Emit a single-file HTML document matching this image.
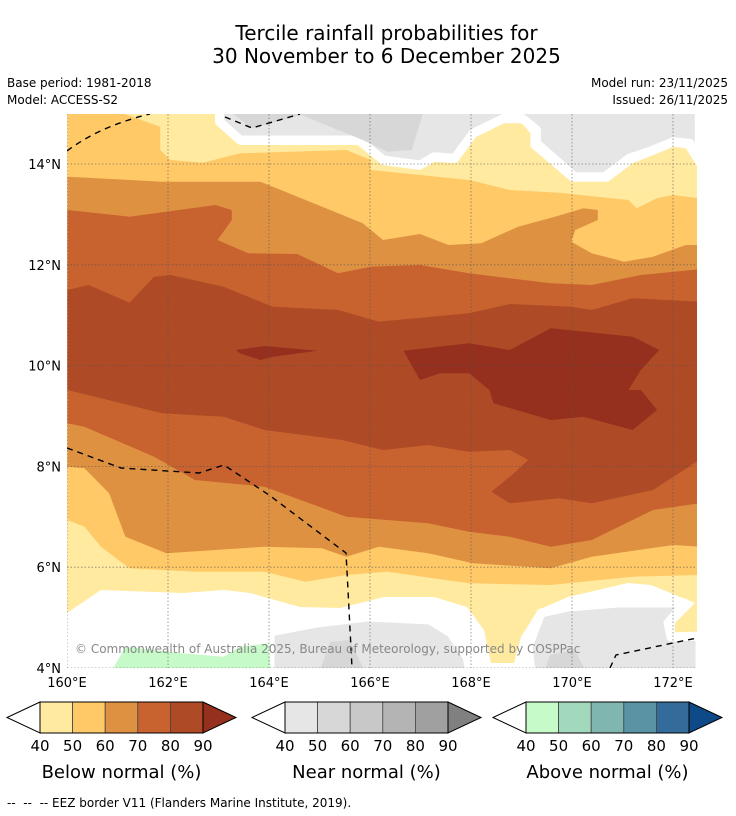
<!DOCTYPE html>
<html><head><meta charset="utf-8">
<style>
body{margin:0;background:#fff;font-family:"DejaVu Sans","Liberation Sans",sans-serif;}
#wrap{position:relative;width:736px;height:816px;overflow:hidden;background:#fff;}
.t{position:absolute;color:#000;white-space:nowrap;}
</style></head>
<body>
<div id="wrap">
<div class="t" style="left:0;width:773px;text-align:center;top:22px;font-size:20px;line-height:23px;">Tercile rainfall probabilities for<br>30 November to 6 December 2025</div>
<div class="t" style="left:7px;top:76px;font-size:12px;">Base period: 1981-2018</div>
<div class="t" style="left:7px;top:93px;font-size:12px;">Model: ACCESS-S2</div>
<div class="t" style="right:8px;top:76px;font-size:12px;">Model run: 23/11/2025</div>
<div class="t" style="right:8px;top:93px;font-size:12px;">Issued: 26/11/2025</div>
<svg id="map" width="736" height="816" style="position:absolute;left:0;top:0"></svg>
<div class="t" style="left:7px;top:796px;font-size:12px;">-- &nbsp;-- &nbsp;-- EEZ border V11 (Flanders Marine Institute, 2019).</div>
</div>
<script>
const NS="http://www.w3.org/2000/svg";
const svg=document.getElementById('map');
const lonTicks=[160,162,164,166,168,170,172];
const latTicks=[4,6,8,10,12,14];
const belowColors=["#ffeaa0","#fec966","#df9142","#c8622f","#ae4a25","#952f1e"];
const nearColors=["#e6e6e6","#d7d7d7","#c8c8c8","#b4b4b4","#a0a0a0","#808080"];
const aboveColors=["#c6fac8","#a2d8bc","#7fb6b0","#5a93a3","#336b9a","#0d4a87"];
const barLabels=[40,50,60,70,80,90];
// contour geometry (z1/z2 = zoom-frame coords, s = screen coords)
const band40=[["z1",[18,0,390,0,390,50,440,105,730,105,790,165,880,180,915,155,965,160,1010,85,1085,40,1130,40,1150,70,1150,110,1250,215,1340,215,1400,160,1440,140,1500,110,1530,115,1563,180]],["s",[697,633,675,635,675,623,695,603,651,585,628,583,568,597,538,610,521,637,514,663,491,663,484,630,467,607,434,597,384,597,340,608,300,607,250,593,224,590,183,593,101,590,67,613]]];
const band50=[["z1",[18,0,130,0,245,50,245,120,270,150,350,158,440,130,700,120,760,150,760,180,1000,210,1100,240,1220,248,1390,270,1410,295,1460,265,1500,255,1563,265]],["z2",[1563,555,1400,560,1200,585,1000,580,800,545,700,555,600,575,500,545,330,545,170,535,100,470,60,410,18,390]]];
const band60=[["z1",[18,200,250,215,490,215,620,280,740,340,790,390,880,372,950,405,1030,400,1120,350,1210,320,1280,295,1315,300,1315,330,1260,360,1250,395,1300,430,1380,455,1450,440,1530,405,1563,405]],["z2",[1563,470,1500,465,1300,500,1200,535,1010,520,900,490,780,470,700,500,640,475,500,470,260,490,160,440,120,310,60,235,18,230]]];
const band70=[["z1",[18,300,170,320,380,285,420,300,420,330,385,390,460,430,580,432,680,490,760,470,880,465,1000,490,1200,520,1300,525,1420,495,1563,478]],["z2",[1563,340,1450,360,1300,450,1200,470,1100,440,1000,425,900,400,700,380,500,290,330,270,230,200,60,110,18,100]]];
const band80=[["z1",[18,540,70,525,170,578,230,500,270,495,400,530,520,590,680,600,780,635,1000,610,1100,582,1250,590,1300,600,1400,565,1563,575]],["z2",[1563,210,1450,300,1300,340,1220,325,1100,340,1055,305,1100,260,1145,210,1100,180,1000,185,900,165,790,180,690,150,500,120,400,80,250,70,18,0]]];
const band90a=[["z1",[430,720,500,708,630,722,520,740,490,750,440,730]]];
const band90b=[["z1",[840,722,1000,700,1100,720,1200,655,1400,680,1465,720,1420,780,1390,840]],["z2",[1420,0,1460,60,1400,120,1280,80,1200,90,1060,40,1050,0]],["z1",[1050,840,1000,790,930,790,880,810]]];
const grayTop=[["z1",[390,-30,390,35,440,90,730,90,790,150,880,165,915,140,965,145,1010,70,1085,25,1130,25,1165,60,1165,100,1258,200,1332,200,1392,145,1440,125,1500,95,1540,100,1563,150,1563,-30]]];
const grayTopDark=[["z1",[410,0,470,55,590,15,740,90,800,125,860,120,890,0]]];
const grayBot=[["s",[270,680,270,632,317,623,367,617,430,620,451,633,467,657,472,680]],["s",[532,680,528,647,541,613,568,607,618,603,685,603,668,623,671,637,700,636,700,680]]];
const grayBotDark=[["s",[320,670,330,642,350,640,364,670]],["s",[545,670,550,655,575,650,585,670]]];
const greenBot=[["z2",[130,835,160,770,300,790,400,800,440,770,510,760,515,835]]];

function lonX(l){return 67+(l-160)*50.5;}
function latY(l){return 668-(l-4)*50.4;}
function pts(segs){let o=[];segs.forEach(([z,a])=>{for(let i=0;i<a.length;i+=2){let x,y;if(z==="s"){x=a[i];y=a[i+1];}else{const y0=z==="z1"?110:390;x=60+a[i]/2.445;y=y0+a[i+1]/3;}o.push(x.toFixed(1)+","+y.toFixed(1));}});return o.join(" ");}
function el(t,attrs,parent){const e=document.createElementNS(NS,t);for(const k in attrs)e.setAttribute(k,attrs[k]);(parent||svg).appendChild(e);return e;}

const clip=el('clipPath',{id:'mc'});el('rect',{x:67,y:114,width:630,height:554},clip);
const g=el('g',{'clip-path':'url(#mc)'});


el('rect',{x:67,y:114,width:630,height:554,fill:'#fff'},g);
function poly(segs,fill,name,stroke){const p=el('polygon',{points:pts(segs),fill:fill},g);if(stroke){p.setAttribute('stroke','#fff');p.setAttribute('stroke-width',stroke);p.setAttribute('stroke-linejoin','round');}

return p;}
poly(band40,belowColors[0],'below-40-50-band');
poly(grayTop,nearColors[0],'near-normal-top','9');
poly(grayTopDark,nearColors[1],'near-normal-top-dark');
poly(grayBot,nearColors[0],'near-normal-bottom','9');
poly(grayBotDark,nearColors[1],'near-normal-bottom-dark');
poly(greenBot,aboveColors[0],'above-normal-bottom');
poly(band50,belowColors[1],'below-50-60-band');
poly(band60,belowColors[2],'below-60-70-band');
poly(band70,belowColors[3],'below-70-80-band');
poly(band80,belowColors[4],'below-80-90-band');
poly(band90a,belowColors[5],'below-90-west');
poly(band90b,belowColors[5],'below-90-east');
lonTicks.forEach(l=>{const x=lonX(l);const ln=el('line',{x1:x,x2:x,y1:114,y2:668,stroke:'#555','stroke-width':0.8,'stroke-dasharray':'1.5,2',opacity:0.7},g);

});
latTicks.forEach(l=>{const y=latY(l);const ln=el('line',{x1:67,x2:697,y1:y,y2:y,stroke:'#555','stroke-width':0.8,'stroke-dasharray':'1.5,2',opacity:0.7},g);

});
['M67,151 Q100,126 150,114','M225,117 L252,128 L300,114','M67,448 L121,468 L199,473 L224,465 L269,495 L346,553 L348,590 L352,668','M610,668 L616,655 L673,643 L697,638'].forEach(d=>{const p=el('path',{d:d,fill:'none',stroke:'#000','stroke-width':1.4,'stroke-dasharray':'6,5'},g);

});
const cr=el('text',{x:75,y:653,'font-size':12,fill:'#888','font-family':'DejaVu Sans, Liberation Sans, sans-serif'},g);cr.textContent='© Commonwealth of Australia 2025, Bureau of Meteorology, supported by COSPPac';


const ff='DejaVu Sans, Liberation Sans, sans-serif';
latTicks.forEach(l=>{const t=el('text',{x:61,y:latY(l)+5,'font-size':13,'text-anchor':'end','font-family':ff});t.textContent=l+'°N';

});
lonTicks.forEach(l=>{const t=el('text',{x:lonX(l),y:687,'font-size':13,'text-anchor':'middle','font-family':ff});t.textContent=l+'°E';

});
function bar(x0,colors,title,name){const gg=el('g',{});


const y0=702,h=31,w=32.6,bx=x0+33;
el('polygon',{points:`${bx},${y0} ${x0},${y0+h/2} ${bx},${y0+h}`,fill:'#fff',stroke:'#000','stroke-width':1},gg);
for(let i=0;i<5;i++)el('rect',{x:bx+i*w,y:y0,width:w,height:h,fill:colors[i],stroke:'#444','stroke-width':0.8},gg);
const ex=bx+5*w;el('polygon',{points:`${ex},${y0} ${ex+33},${y0+h/2} ${ex},${y0+h}`,fill:colors[5],stroke:'#000','stroke-width':1},gg);
el('rect',{x:bx,y:y0,width:5*w,height:h,fill:'none',stroke:'#000','stroke-width':1},gg);
barLabels.forEach((v,i)=>{const t=el('text',{x:bx+i*w,y:751,'font-size':15,'text-anchor':'middle','font-family':ff},gg);t.textContent=v;});
const tt=el('text',{x:bx+2.5*w,y:778,'font-size':18,'text-anchor':'middle','font-family':ff},gg);tt.textContent=title;}
bar(7,belowColors,'Below normal (%)','below-normal-colorbar');
bar(252,nearColors,'Near normal (%)','near-normal-colorbar');
bar(493,aboveColors,'Above normal (%)','above-normal-colorbar');
</script>
</body></html>
